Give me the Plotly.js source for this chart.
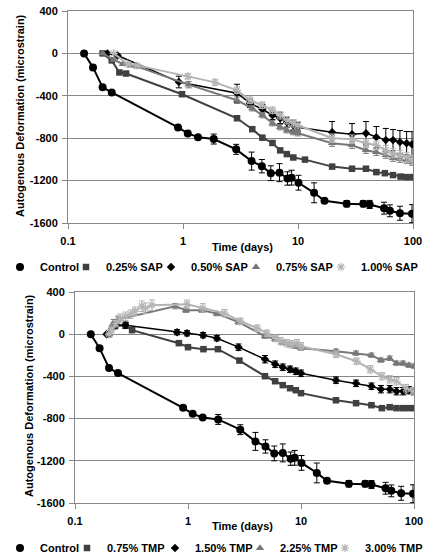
<!DOCTYPE html>
<html><head><meta charset="utf-8">
<script src="https://cdn.plot.ly/plotly-3.0.1.min.js"></script>
<style>html,body{margin:0;padding:0;background:#fff}#chart{width:424px;height:558px}</style>
</head><body><div id="chart"></div>
<script>
// ---------- data (time in days, deformation in microstrain) ----------
var controlT = [0.138, 0.165, 0.20, 0.24, 0.905, 1.10, 1.35, 1.85, 2.9, 3.95, 4.85, 5.8, 6.9, 8.1, 8.8, 10.1, 13.8, 17, 26.5, 37, 42, 56, 63, 77, 98];
var controlY = [0, -132, -320, -368, -698, -755, -790, -808, -905, -1016, -1064, -1130, -1125, -1180, -1172, -1220, -1315, -1390, -1418, -1418, -1425, -1460, -1485, -1508, -1512];
var controlE = [0, 5, 5, 5, 15, 20, 15, 47, 47, 85, 63, 70, 85, 63, 70, 70, 94, 20, 30, 30, 38, 56, 56, 66, 85];

var sap025T = [0.2, 0.24, 0.28, 0.32, 0.98, 2.95, 4.0, 4.9, 6.0, 7.0, 8.0, 9.1, 11.5, 19.8, 29.5, 39, 48, 57, 67, 78, 88, 100];
var sap025Y = [0, -66, -180, -190, -385, -612, -715, -795, -845, -915, -950, -982, -1002, -1068, -1088, -1088, -1120, -1130, -1148, -1162, -1167, -1167];
var sap025E = [0, 5, 8, 8, 15, 15, 15, 15, 15, 15, 15, 15, 15, 15, 15, 15, 20, 20, 20, 20, 20, 20];

var sap050T = [0.22, 0.27, 0.92, 2.95, 3.83, 4.9, 6.0, 7.0, 8.0, 9.1, 10, 19.8, 29.5, 39, 48, 58, 67, 77, 88, 98];
var sap050Y = [0, -20, -270, -376, -470, -527, -583, -612, -650, -678, -696, -743, -762, -753, -790, -818, -818, -837, -847, -858];
var sap050E = [0, 10, 55, 85, 40, 45, 40, 50, 45, 50, 45, 100, 100, 110, 100, 110, 100, 110, 110, 120];

var sap075T = [0.2, 0.25, 0.3, 0.35, 0.4, 1.12, 2.95, 4.0, 4.9, 6.0, 7.0, 8.0, 9.1, 10, 19.8, 29.5, 39, 48, 58, 67, 77, 88, 98];
var sap075Y = [0, -60, -100, -115, -125, -295, -442, -518, -583, -659, -696, -725, -743, -753, -847, -866, -913, -932, -960, -988, -998, -1007, -1026];
var sap075E = [0, 10, 10, 10, 10, 30, 30, 25, 25, 25, 25, 25, 25, 25, 30, 30, 30, 30, 30, 30, 30, 30, 30];

var sap100T = [0.25, 0.33, 0.4, 1.1, 1.9, 2.95, 3.83, 4.9, 6.0, 7.0, 8.0, 9.1, 10, 19.8, 29.5, 39, 48, 58, 67, 77, 88, 98];
var sap100Y = [0, -100, -113, -217, -273, -348, -442, -489, -536, -583, -630, -659, -678, -800, -809, -847, -866, -913, -941, -960, -979, -1007];
var sap100E = [0, 10, 10, 25, 30, 30, 30, 30, 30, 35, 35, 35, 35, 40, 40, 40, 40, 45, 45, 45, 45, 45];

var tmp075T = [0.2, 0.226, 0.28, 0.32, 0.83, 1.0, 1.37, 1.84, 2.85, 4.8, 5.9, 6.9, 8.0, 9.0, 10, 20.4, 30.7, 42, 52, 61, 70, 80, 90, 100];
var tmp075Y = [0, 76, 85, 38, -85, -123, -142, -142, -250, -398, -446, -483, -512, -531, -559, -626, -654, -673, -701, -692, -701, -701, -701, -701];
var tmp075E = [0, 10, 10, 10, 10, 10, 10, 10, 10, 10, 10, 10, 10, 10, 10, 10, 10, 10, 10, 10, 10, 10, 10, 10];

var tmp150T = [0.19, 0.23, 0.28, 0.8, 0.98, 1.36, 1.8, 2.8, 4.8, 5.9, 6.9, 8.0, 9.0, 10, 20.4, 30.7, 42, 51, 61, 70, 80, 90, 100];
var tmp150Y = [0, 90, 85, 19, 9, -9, -38, -123, -237, -284, -313, -332, -351, -370, -436, -465, -493, -521, -521, -540, -540, -531, -540];
var tmp150E = [0, 20, 30, 25, 25, 25, 25, 30, 35, 30, 30, 30, 30, 30, 30, 30, 30, 35, 35, 35, 35, 35, 35];

var tmp225T = [0.2, 0.21, 0.22, 0.24, 0.77, 0.96, 1.33, 1.8, 2.8, 4.8, 5.9, 6.9, 8.0, 9.0, 10, 20.4, 30.7, 42, 51, 61, 70, 80, 90, 100];
var tmp225Y = [0, 60, 110, 140, 265, 227, 227, 195, 114, -19, -47, -80, -100, -115, -133, -161, -180, -199, -246, -228, -275, -275, -294, -303];
var tmp225E = [0, 20, 30, 30, 25, 20, 20, 20, 20, 20, 20, 20, 20, 20, 20, 20, 20, 20, 20, 20, 20, 20, 20, 20];

var tmp300T = [0.2, 0.21, 0.23, 0.25, 0.28, 0.31, 0.34, 0.39, 0.42, 0.48, 0.98, 1.35, 2.1, 2.9, 4.1, 5.0, 6.0, 6.6, 7.5, 8.3, 9.2, 10, 20.4, 31, 41, 52, 61, 70, 85, 98];
var tmp300Y = [0, 40, 100, 152, 170, 190, 218, 265, 246, 275, 284, 250, 199, 123, 57, 9, -40, -66, -85, -95, -85, -114, -190, -256, -332, -398, -427, -446, -512, -540];
var tmp300E = [0, 20, 30, 40, 40, 40, 40, 50, 50, 50, 40, 40, 35, 30, 30, 30, 30, 35, 35, 35, 35, 35, 30, 30, 35, 35, 35, 35, 35, 35];

var topNames = ['Control', '0.25% SAP', '0.50% SAP', '0.75% SAP', '1.00% SAP'];
var botNames = ['Control', '0.75% TMP', '1.50% TMP', '2.25% TMP', '3.00% TMP'];
var xTickVals = [0.1, 1, 10, 100];
var xTickText = ['0.1', '1', '10', '100'];
var yTickVals = [400, 0, -400, -800, -1200, -1600];
var yTickText = ['400', '0', '-400', '-800', '-1200', '-1600'];

// ---------- styles ----------
var FONT = 'Arial, "Liberation Sans", sans-serif';
var styles = [
  {color: '#000000', symbol: 'circle', size: 8, lw: 2},
  {color: '#404040', symbol: 'square', size: 6.5, lw: 2},
  {color: '#000000', symbol: 'diamond', size: 6.5, lw: 1.5},
  {color: '#787878', symbol: 'triangle-up', size: 7.5, lw: 2},
  {color: '#b4b4b4', symbol: 'asterisk-open', size: 7, lw: 2}
];
var traces = [];
function addSeries(t, y, e, st, name, xa, ya, leg, legW) {
  traces.push({x: t, y: y, xaxis: xa, yaxis: ya, type: 'scatter', mode: 'lines',
    line: {color: st.color, width: st.lw}, showlegend: false, hoverinfo: 'skip'});
  traces.push({x: t, y: y, xaxis: xa, yaxis: ya, type: 'scatter', mode: 'markers', name: name,
    marker: {symbol: st.symbol, size: st.size, color: st.color, line: {color: st.color, width: st.symbol === 'asterisk-open' ? 1.2 : 0}},
    error_y: {type: 'data', array: e, visible: true, color: st.color, thickness: 1, width: 3},
    legend: leg, legendwidth: legW});
}
var topW = [21, 40, 40, 40, 57];
var botW = [22, 43, 40, 40, 58];
var topData = [[controlT, controlY, controlE], [sap025T, sap025Y, sap025E], [sap050T, sap050Y, sap050E], [sap075T, sap075Y, sap075E], [sap100T, sap100Y, sap100E]];
var botData = [[controlT, controlY, controlE], [tmp075T, tmp075Y, tmp075E], [tmp150T, tmp150Y, tmp150E], [tmp225T, tmp225Y, tmp225E], [tmp300T, tmp300Y, tmp300E]];
for (var i = 0; i < 5; i++) addSeries(topData[i][0], topData[i][1], topData[i][2], styles[i], topNames[i], 'x', 'y', 'legend', topW[i]);
for (var j = 0; j < 5; j++) addSeries(botData[j][0], botData[j][1], botData[j][2], styles[j], botNames[j], 'x2', 'y2', 'legend2', botW[j]);

var W = 424, H = 558;
var tickFont = {family: FONT, size: 11, weight: 'bold', color: '#000'};
function xAxis(l, r, anchor) {
  return {type: 'log', range: [-1, 2], domain: [l / W, r / W], anchor: anchor,
    tickvals: xTickVals, ticktext: xTickText, ticks: 'outside', ticklen: 5, tickcolor: '#868686',
    showline: true, linecolor: '#868686', linewidth: 1, mirror: true, showgrid: false, zeroline: false,
    tickfont: tickFont, ticklabelstandoff: 3, fixedrange: true};
}
function yAxis(top, bot, anchor) {
  return {range: [-1600, 400], domain: [1 - bot / H, 1 - top / H], anchor: anchor,
    tickvals: yTickVals, ticktext: yTickText, ticks: 'outside', ticklen: 5, tickcolor: '#868686',
    showline: true, linecolor: '#868686', linewidth: 1, mirror: true, showgrid: true, gridcolor: '#868686', gridwidth: 1,
    zeroline: false, tickfont: tickFont, ticklabelstandoff: 2, fixedrange: true};
}
var legFont = {family: FONT, size: 11, weight: 'bold', color: '#000'};
var titleFont = {family: FONT, size: 11, weight: 'bold', color: '#000'};
var layout = {
  width: W, height: H, paper_bgcolor: '#fff', plot_bgcolor: '#fff',
  margin: {l: 0, r: 0, t: 0, b: 0, autoexpand: false},
  showlegend: true,
  xaxis: xAxis(68, 413, 'y'), yaxis: yAxis(11, 223, 'x'),
  xaxis2: xAxis(75, 414, 'y2'), yaxis2: yAxis(292, 503, 'x2'),
  legend: {orientation: 'h', x: 0, xanchor: 'left', y: 1 - 267 / H, yanchor: 'middle', font: legFont, bgcolor: 'rgba(0,0,0,0)', borderwidth: 0},
  legend2: {orientation: 'h', x: 0, xanchor: 'left', y: 1 - 548 / H, yanchor: 'middle', font: legFont, bgcolor: 'rgba(0,0,0,0)', borderwidth: 0},
  annotations: [
    {text: 'Autogenous Deformation (microstrain)', textangle: -90, xref: 'paper', yref: 'paper', x: 20 / W, y: 1 - 116 / H, showarrow: false, font: titleFont, xanchor: 'center', yanchor: 'middle'},
    {text: 'Time (days)', xref: 'paper', yref: 'paper', x: 242 / W, y: 1 - 247 / H, showarrow: false, font: titleFont, xanchor: 'center', yanchor: 'middle'},
    {text: 'Autogenous Deformation (microstrain)', textangle: -90, xref: 'paper', yref: 'paper', x: 29 / W, y: 1 - 396 / H, showarrow: false, font: titleFont, xanchor: 'center', yanchor: 'middle'},
    {text: 'Time (days)', xref: 'paper', yref: 'paper', x: 243 / W, y: 1 - 526 / H, showarrow: false, font: titleFont, xanchor: 'center', yanchor: 'middle'}
  ]
};
Plotly.newPlot('chart', traces, layout, {staticPlot: true, displayModeBar: false});
</script></body></html>
